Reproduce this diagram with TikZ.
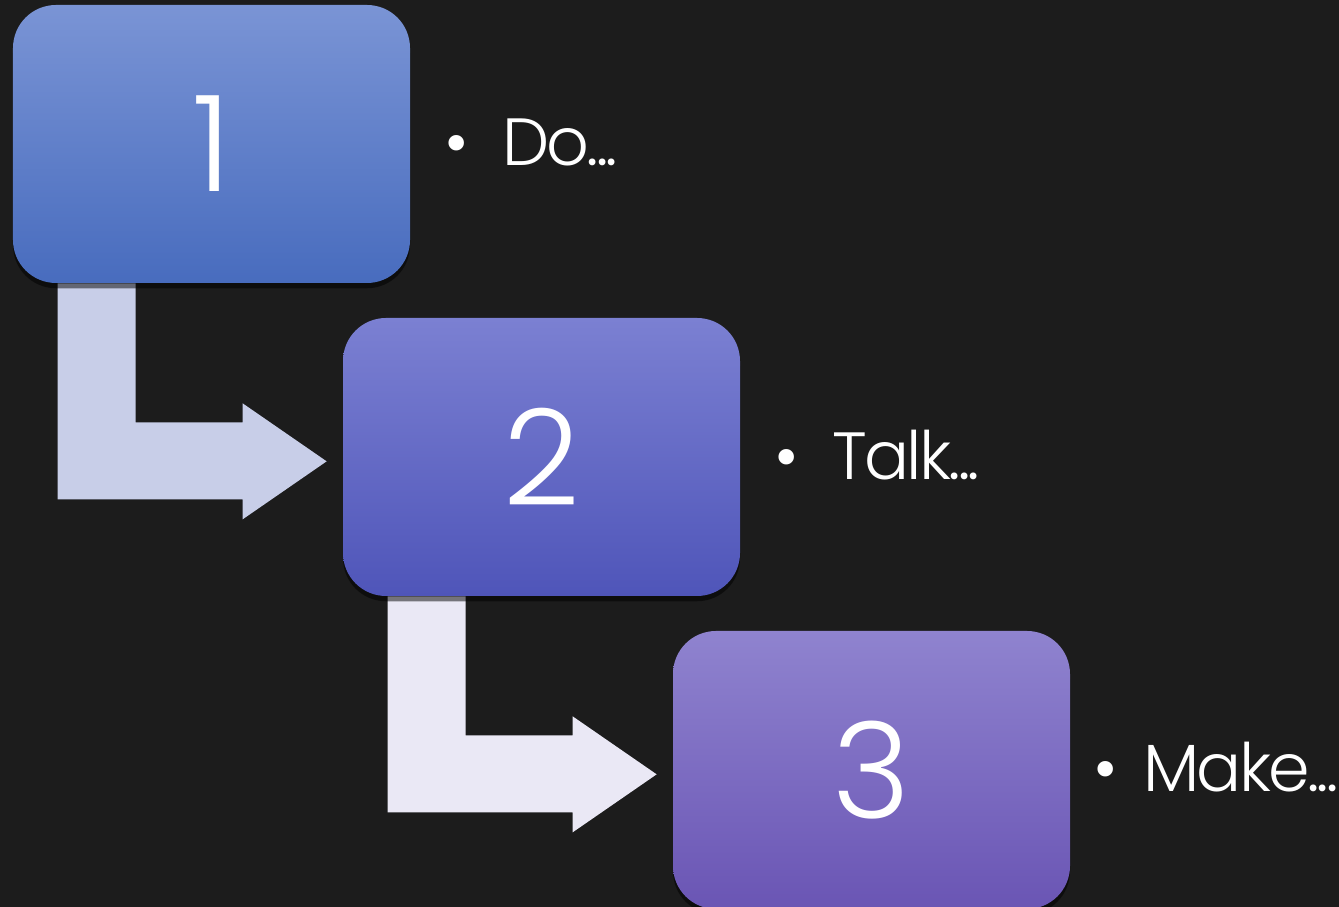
\documentclass[tikz,border=0pt]{standalone}
\usepackage{fontspec}
\setmainfont{Poppins Light}
\usetikzlibrary{positioning,calc,shadows}

\definecolor{bgdark}{RGB}{28,28,28}
\definecolor{boxatop}{RGB}{122,148,213}
\definecolor{boxabot}{RGB}{72,108,190}
\definecolor{boxbtop}{RGB}{123,128,210}
\definecolor{boxbbot}{RGB}{79,85,185}
\definecolor{boxctop}{RGB}{143,131,207}
\definecolor{boxcbot}{RGB}{106,85,180}
\definecolor{arrowa}{RGB}{200,206,232}
\definecolor{arrowb}{RGB}{234,232,245}

\tikzset{
  stepbox/.style={rounded corners=0.86cm, minimum width=7.94cm, minimum height=5.56cm,
    inner sep=0pt, text=white, font=\fontsize{76}{76}\selectfont,
    drop shadow={opacity=0.5, fill=black, shadow xshift=0pt, shadow yshift=-3pt}},
  bullettext/.style={anchor=base west, text=white, inner sep=0pt,
    font=\fontsize{38}{38}\selectfont\addfontfeature{LetterSpace=-4}}
}

% bent arrow from the bottom of one box towards the next
\newcommand{\bentarrow}[2]{%
  \begin{scope}[shift={(#1.south west)}]
    \fill[#2] (0.9,0) -- (2.46,0) -- (2.46,-2.78) -- (4.6,-2.78) -- (4.6,-2.4)
      -- (6.28,-3.56) -- (4.6,-4.72) -- (4.6,-4.32) -- (0.9,-4.32) -- cycle;
  \end{scope}}

\begin{document}
\begin{tikzpicture}
\fill[bgdark] (0,0) rectangle (26.78,18.14);
\useasboundingbox (0,0) rectangle (26.78,18.14);

% positions of the three steps
\coordinate (c1) at (4.23,15.26);
\coordinate (c2) at (10.83,9.0);
\coordinate (c3) at (17.43,2.74);

% arrows lie under the boxes
\path (c1) node[minimum width=7.94cm, minimum height=5.56cm] (ghost1) {};
\path (c2) node[minimum width=7.94cm, minimum height=5.56cm] (ghost2) {};
\bentarrow{ghost1}{arrowa}
\bentarrow{ghost2}{arrowb}

\node[stepbox, top color=boxatop, bottom color=boxabot] (box1) at (c1) {1};
\node[stepbox, top color=boxbtop, bottom color=boxbbot] (box2) at (c2) {2};
\node[stepbox, top color=boxctop, bottom color=boxcbot] (box3) at (c3) {3};

\node[bullettext] (do) at ($(box1.east)+(0.68,-0.44)$) {•\hspace{0.66cm}Do...};
\node[bullettext] (talk) at ($(box2.east)+(0.68,-0.46)$) {•\hspace{0.66cm}Talk...};
\node[bullettext] (make) at ($(box3.east)+(0.46,-0.44)$) {•\hspace{0.5cm}Make...};
\end{tikzpicture}
\end{document}
